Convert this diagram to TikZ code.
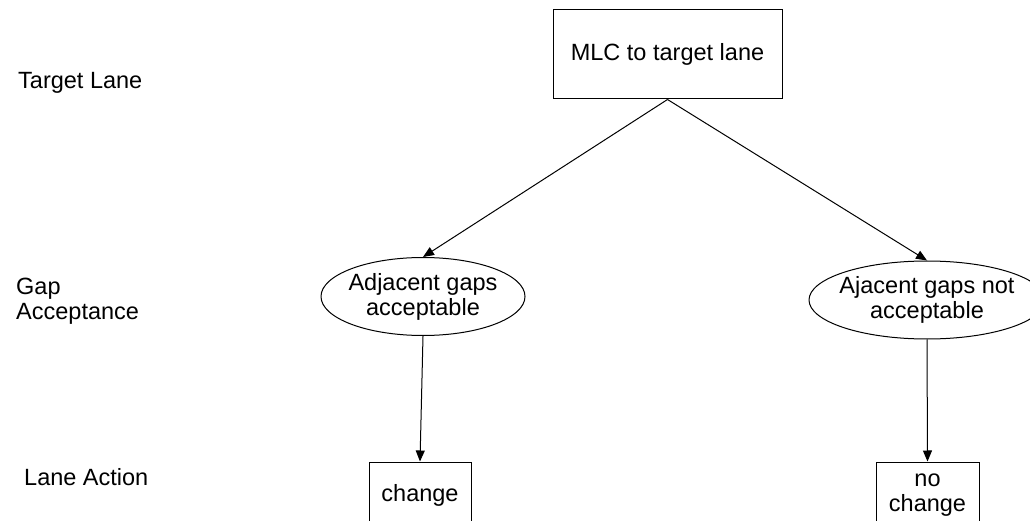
\documentclass[tikz,border=0pt]{standalone}
\usepackage{fontspec}
\setmainfont{Liberation Sans}
\usetikzlibrary{shapes.geometric,arrows.meta}
\begin{document}
\begin{tikzpicture}[x=1pt,y=-1pt,
  every node/.style={font=\fontsize{23.5}{25}\selectfont, inner sep=0pt},
  box/.style={draw, line width=1pt, rectangle, align=center},
  oval/.style={draw, line width=1pt, ellipse, align=center, inner xsep=-9pt},
  lbl/.style={anchor=west, align=left},
  conn/.style={line width=1pt, -{Triangle[length=11pt,width=9pt]}}]
\clip (0,0) rectangle (1030,521);
\fill[white] (0,0) rectangle (1030,521);
\node[lbl] (tl) at (18,83) {Target Lane};
\node[lbl] (ga) at (16,301) {Gap\\Acceptance};
\node[lbl] (la) at (24,477.5) {Lane Action};
\node[box, minimum width=229pt, minimum height=89pt] (top) at (667.5,54.5) {MLC to target lane};
\node[oval, minimum width=204pt, minimum height=78pt] (e1) at (423,296.5) {Adjacent gaps\\acceptable};
\node[oval, minimum width=236pt, minimum height=78pt] (e2) at (927,300) {Ajacent gaps not\\acceptable};
\node[box, anchor=north, minimum width=102pt, minimum height=66pt] (chg) at (420,461.5) {change};
\node[box, anchor=north, minimum width=103pt, minimum height=66pt] (nchg) at (927.5,461.5) {no\\change};
\draw[conn] (top.south) -- (e1.north);
\draw[conn] (top.south) -- (e2.north);
\draw[conn] (e1.south) -- (chg.north);
\draw[conn] (e2.south) -- (nchg.north);
\end{tikzpicture}
\end{document}
